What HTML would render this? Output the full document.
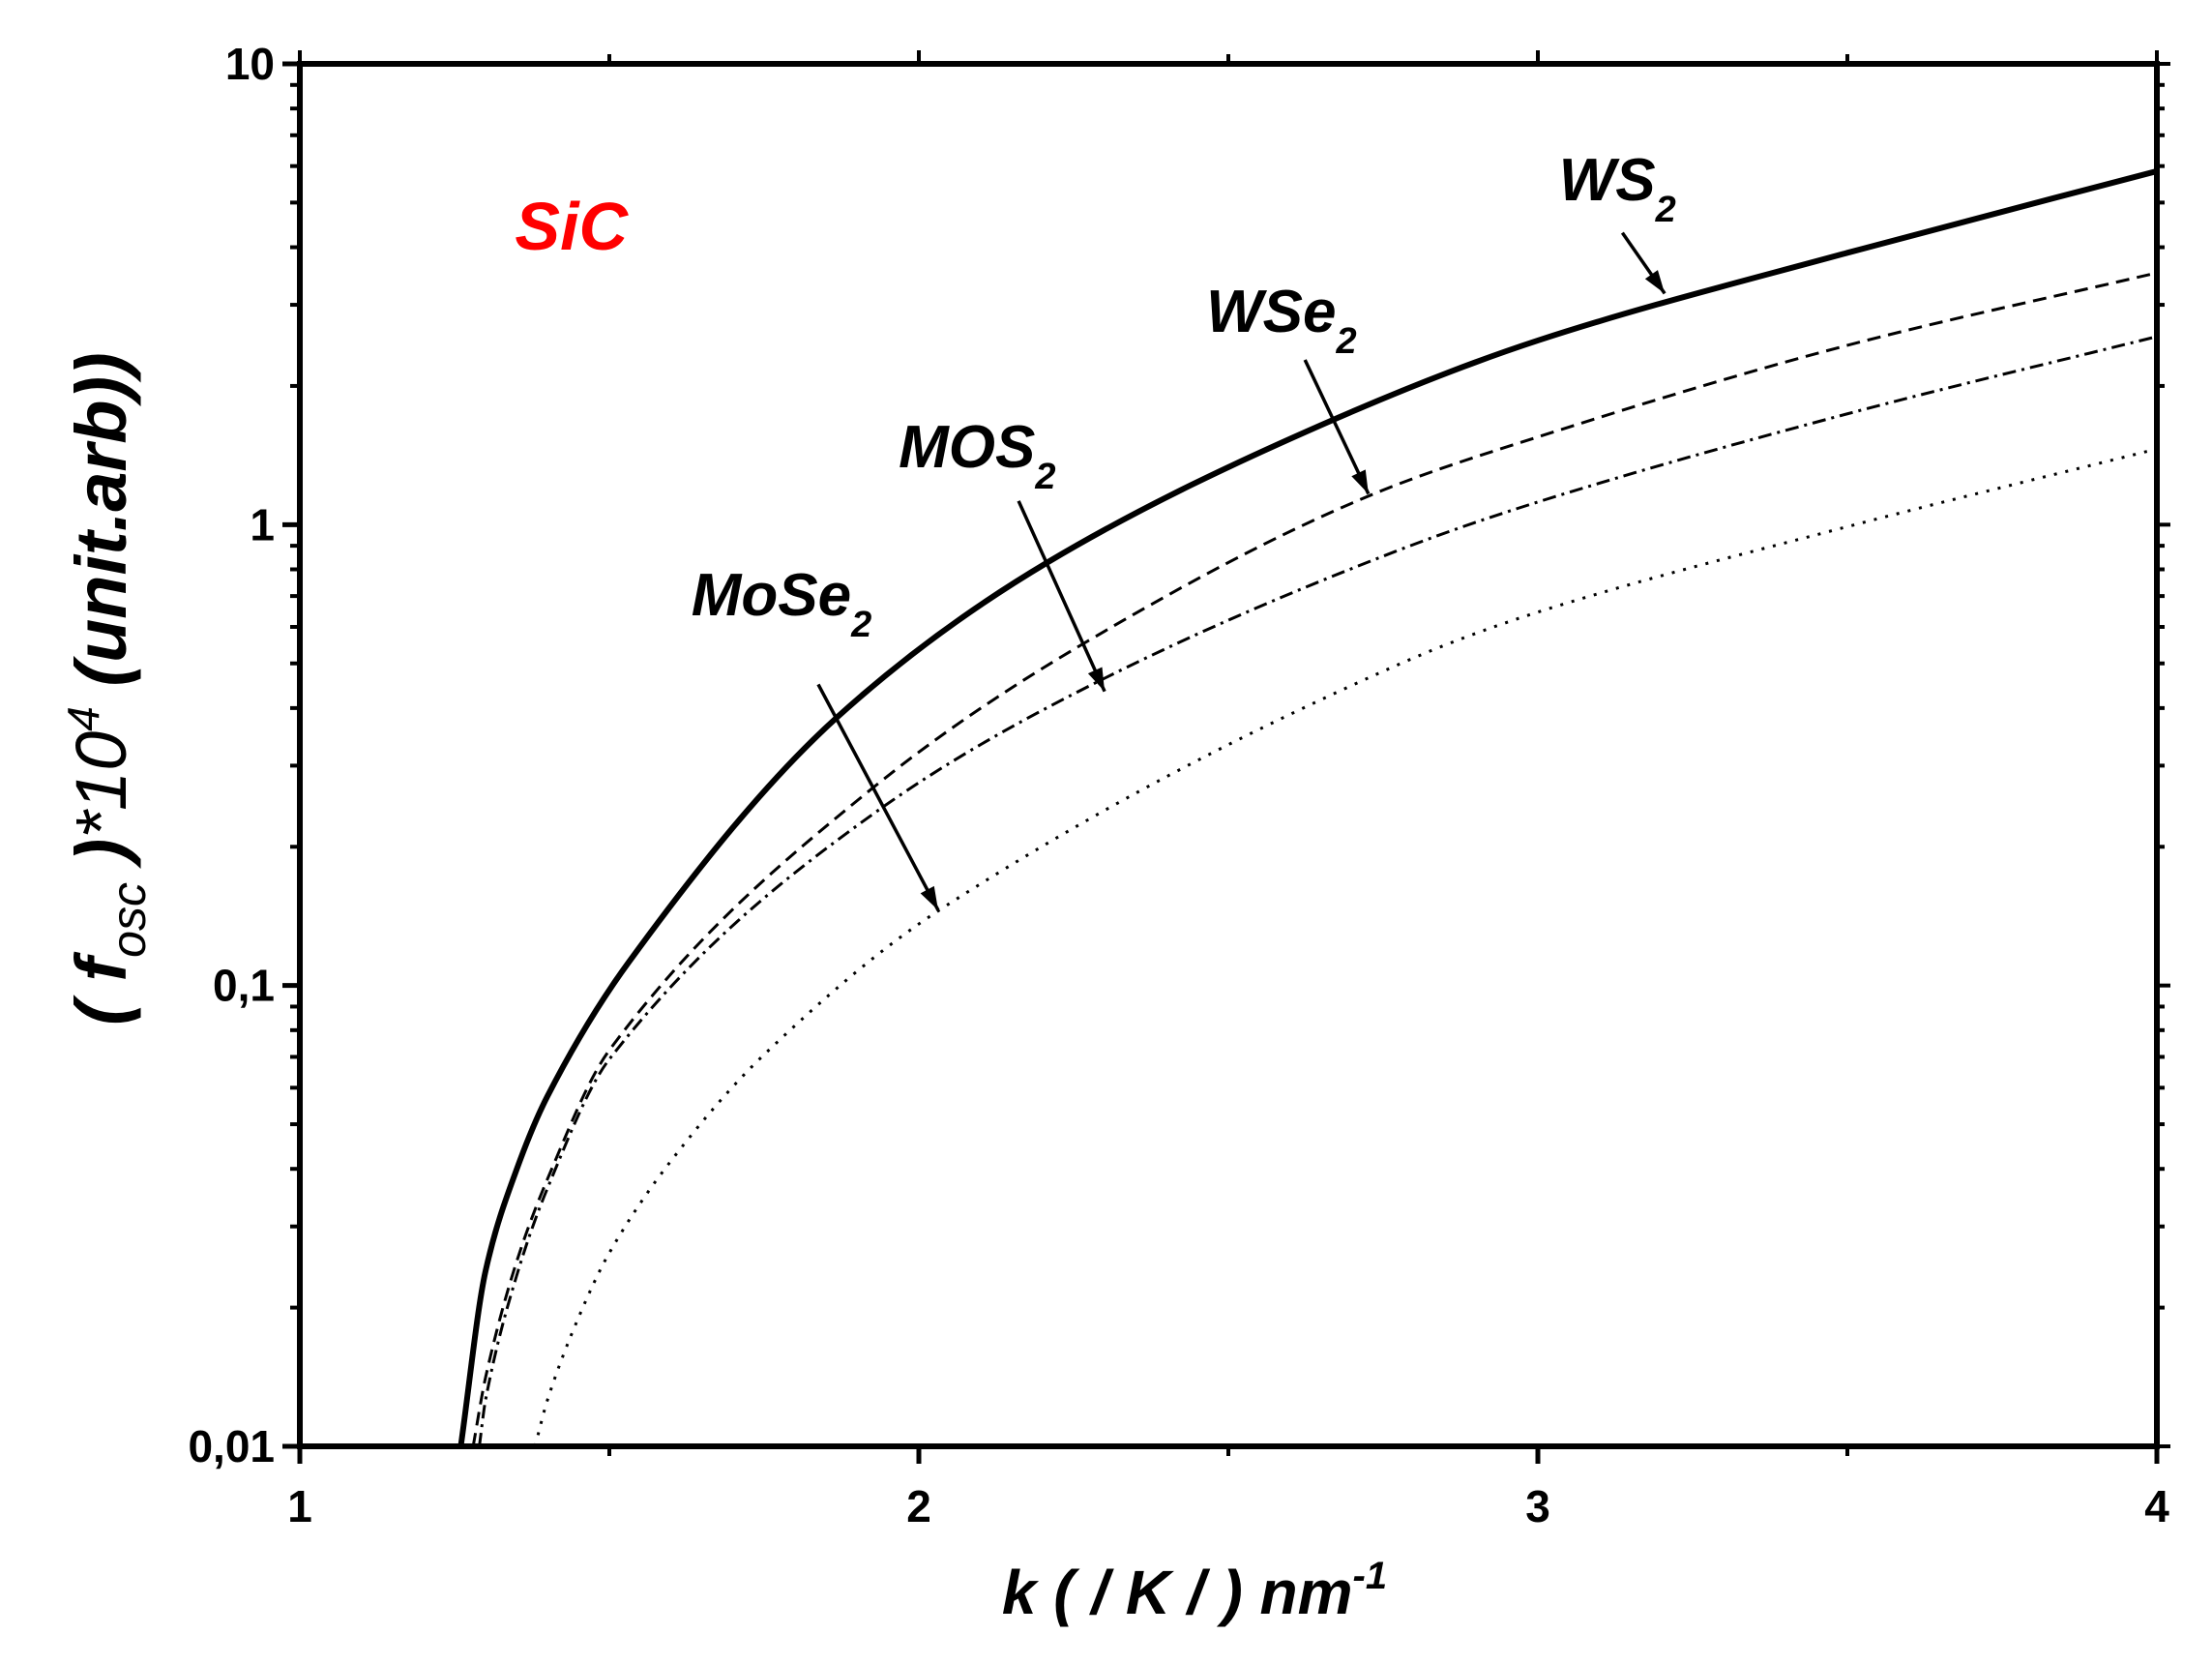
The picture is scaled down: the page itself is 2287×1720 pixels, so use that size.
<!DOCTYPE html>
<html><head><meta charset="utf-8"><style>
html,body{margin:0;padding:0;background:#fff}
svg{display:block}
text{font-family:"Liberation Sans",sans-serif}
</style></head><body>
<svg id="chart" width="2287" height="1720" viewBox="0 0 2287 1720" xmlns="http://www.w3.org/2000/svg">
<g id="plot"></g>
</svg>
<script>
const ws2K = [1.26,1.3,1.35,1.4,1.53,1.867,2.209,2.67,3,3.5,4];
const ws2 = [0.01,0.024,0.0398,0.0575,0.1117,0.381,0.83,1.69,2.51,3.89,5.85];
const wse2K = [1.28,1.3,1.35,1.4,1.5,1.919,2.264,2.73,3,3.5,4];
const wse2 = [0.01,0.0141,0.0251,0.038,0.0724,0.264,0.55,1.159,1.55,2.45,3.52];
const mos2K = [1.29,1.3,1.35,1.4,1.5,1.925,2.297,2.77,3,3.5,4];
const mos2 = [0.01,0.0126,0.0234,0.0363,0.0692,0.235,0.462,0.875,1.12,1.74,2.56];
const mose2K = [1.38,1.4,1.45,1.5,1.6,1.75,2.034,2.77,3,3.5,4];
const mose2 = [0.01,0.0126,0.019,0.0263,0.0417,0.0708,0.146,0.494,0.646,0.99,1.46];
const xTicks = [1,2,3,4];
const xTickLabels = ["1","2","3","4"];
const yTicks = [0.01,0.1,1,10];
const yTickLabels = ["0,01","0,1","1","10"];

const L=310,R=2230,T=66,B=1495;
const xS = k => L + (k-1)/3*(R-L);
const yS = v => B - (Math.log10(v)+2)/3*(B-T);
const NS="http://www.w3.org/2000/svg";
const g=document.getElementById('plot');
function mk(tag,attrs,parent){const e=document.createElementNS(NS,tag);for(const a in attrs)e.setAttribute(a,attrs[a]);(parent||g).appendChild(e);return e;}

function series(ks,vs,name,dash,w){
  const X=ks.map(xS),Y=vs.map(yS),n=X.length;
  const d=[],m=new Array(n);
  for(let i=0;i<n-1;i++)d.push((Y[i+1]-Y[i])/(X[i+1]-X[i]));
  m[0]=d[0];m[n-1]=d[n-2];
  for(let i=1;i<n-1;i++){m[i]=(d[i-1]*d[i]<=0)?0:2/(1/d[i-1]+1/d[i]);}
  let p=`M${X[0]},${Y[0]}`;
  for(let i=0;i<n-1;i++){
    const h=X[i+1]-X[i];
    p+=` C${X[i]+h/3},${Y[i]+m[i]*h/3} ${X[i+1]-h/3},${Y[i+1]-m[i+1]*h/3} ${X[i+1]},${Y[i+1]}`;
  }
  const e=mk('path',{d:p,fill:'none',stroke:'#000','stroke-width':w});
  if(dash)e.setAttribute('stroke-dasharray',dash);
  
  
}
series(ws2K,ws2,'ws2-line',null,6);
series(wse2K,wse2,'wse2-line','14,8',3);
series(mos2K,mos2,'mos2-line','14,6,3,6',3);
series(mose2K,mose2,'mose2-line','3,9',3);

const fr=mk('rect',{x:L,y:T,width:R-L,height:B-T,fill:'none',stroke:'#000','stroke-width':6});



xTicks.forEach((t,i)=>{
  const x=xS(t);
  const tk=mk('line',{x1:x,y1:B,x2:x,y2:B+18,stroke:'#000','stroke-width':5});
  
  
  mk('line',{x1:x,y1:T,x2:x,y2:T-14,stroke:'#000','stroke-width':4});
  const lb=mk('text',{x:x,y:B+78,'text-anchor':'middle','font-size':46,'font-weight':'bold'});
  lb.textContent=xTickLabels[i];
  
  
  if(i<xTicks.length-1){const xm=xS(t+0.5);
    mk('line',{x1:xm,y1:B,x2:xm,y2:B+10,stroke:'#000','stroke-width':4});
    mk('line',{x1:xm,y1:T,x2:xm,y2:T-10,stroke:'#000','stroke-width':4});}
});
yTicks.forEach((t,i)=>{
  const y=yS(t);
  const tk=mk('line',{x1:L-18,y1:y,x2:L,y2:y,stroke:'#000','stroke-width':5});
  
  
  mk('line',{x1:R,y1:y,x2:R+14,y2:y,stroke:'#000','stroke-width':4});
  const lb=mk('text',{x:L-26,y:y+16,'text-anchor':'end','font-size':46,'font-weight':'bold'});
  lb.textContent=yTickLabels[i];
  
  
  if(i<yTicks.length-1){for(let m=2;m<=9;m++){const ym=yS(t*m);
    mk('line',{x1:L-10,y1:ym,x2:L,y2:ym,stroke:'#000','stroke-width':4});
    mk('line',{x1:R,y1:ym,x2:R+8,y2:ym,stroke:'#000','stroke-width':4});}}
});

const s=1.4586;
function label(x,y,main,sub,name,color,fs){
  const t=mk('text',{x:x*s,y:y*s,'font-size':fs||62,'font-weight':'bold','font-style':'italic',fill:color||'#000'});
  
  
  t.textContent=main;
  if(sub){const ts=mk('tspan',{dy:22,'font-size':38},t);ts.textContent=sub;}
}
function arrow(x1,y1,x2,y2,name){
  x1*=s;y1*=s;x2*=s;y2*=s;
  const a=mk('line',{x1:x1,y1:y1,x2:x2,y2:y2,stroke:'#000','stroke-width':3.5});
  
  
  const ang=Math.atan2(y2-y1,x2-x1),h=24,w=8;
  const bx=x2-h*Math.cos(ang),by=y2-h*Math.sin(ang);
  mk('polygon',{points:`${x2},${y2} ${bx-w*Math.sin(ang)},${by+w*Math.cos(ang)} ${bx+w*Math.sin(ang)},${by-w*Math.cos(ang)}`,fill:'#000'});
}
label(365,177,'SiC',null,'sic-label','#ff0000',70);
label(1105,142,'WS','2','ws2-label');
arrow(1150,165,1180,208,'ws2-arrow');
label(855,235,'WSe','2','wse2-label');
arrow(925,255,970,350,'wse2-arrow');
label(637,331,'MOS','2','mos2-label');
arrow(722,355,783,490,'mos2-arrow');
label(490,436,'MoSe','2','mose2-label');
arrow(580,485,665,645,'mose2-arrow');

const xt=mk('text',{x:1235,y:1668,'text-anchor':'middle','font-size':64,'font-weight':'bold','font-style':'italic'});


xt.textContent='k ( / K / ) nm';
const xsup=mk('tspan',{dy:-26,'font-size':40},xt);xsup.textContent='-1';

const yt=mk('text',{x:0,y:0,'text-anchor':'middle','font-size':74,'font-weight':'bold','font-style':'italic',transform:'translate(130,712) rotate(-90)'});


yt.innerHTML='( f<tspan dy="20" font-size="50" font-weight="normal">osc</tspan><tspan dy="-20"> )</tspan><tspan font-weight="normal">*10</tspan><tspan dy="-28" font-size="46" font-weight="normal">4</tspan><tspan dy="28">  (unit.arb))</tspan>';
</script>
</body></html>
